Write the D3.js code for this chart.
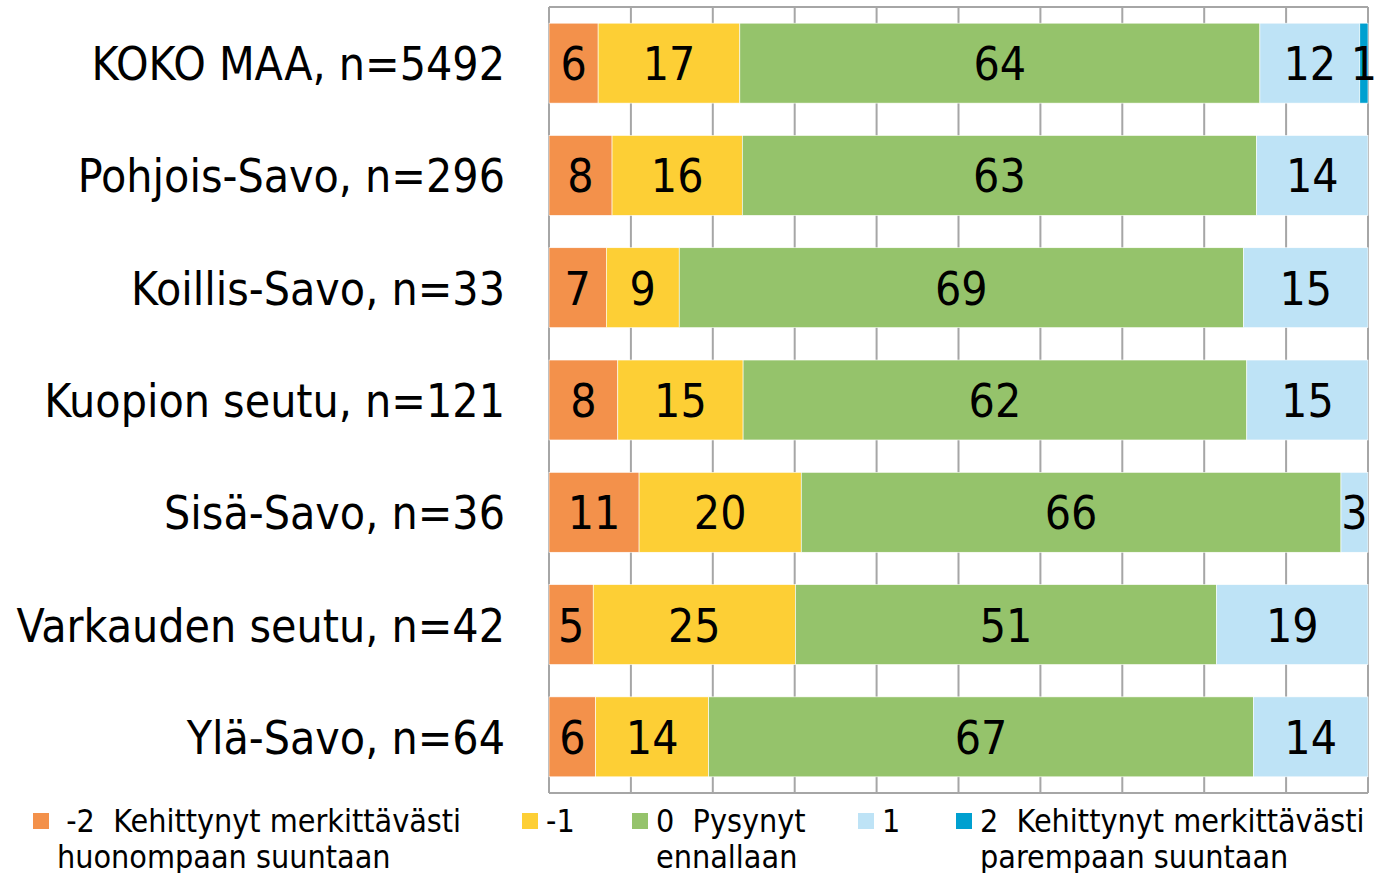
<!DOCTYPE html>
<html>
<head>
<meta charset="utf-8">
<script src="https://cdn.jsdelivr.net/npm/d3@7"></script>
<style>
  body { margin: 0; background: #fff; }
  text { font-family: "Liberation Sans Narrow", "DejaVu Sans Condensed", "Liberation Sans", sans-serif; fill: #000; }
</style>
</head>
<body>
<div id="chart"></div>
<script>
// regions (top to bottom)
var categories = ["KOKO MAA, n=5492", "Pohjois-Savo, n=296", "Koillis-Savo, n=33",
  "Kuopion seutu, n=121", "Sisä-Savo, n=36", "Varkauden seutu, n=42", "Ylä-Savo, n=64"];

// series keys and legend texts
var seriesKeys = ["m2", "m1", "z0", "p1", "p2"];
var legendLines = [
  [" -2  Kehittynyt merkittävästi", "huonompaan suuntaan"],
  ["-1"],
  ["0  Pysynyt", "ennallaan"],
  ["1"],
  ["2  Kehittynyt merkittävästi", "parempaan suuntaan"]
];
var colors = ["#F3914B", "#FDCF35", "#95C36B", "#BEE3F6", "#00A0D0"];

// percentages (label shown rounded)
var m2 = [6.0, 7.7, 7.0, 8.4, 11.0, 5.4, 5.7];
var m1 = [17.3, 15.9, 8.9, 15.3, 19.8, 24.7, 13.8];
var z0 = [63.5, 62.8, 68.9, 61.5, 65.9, 51.4, 66.5];
var p1 = [12.2, 13.6, 15.2, 14.8, 3.3, 18.5, 14.0];
var p2 = [1.0, 0, 0, 0, 0, 0, 0];
var xTicks = [0, 10, 20, 30, 40, 50, 60, 70, 80, 90, 100];

var table = categories.map(function(c, i) {
  return { cat: c, m2: m2[i], m1: m1[i], z0: z0[i], p1: p1[i], p2: p2[i] };
});

var width = 1374, height = 873;
var plotLeft = 549, plotRight = 1368, plotTop = 7, plotBottom = 793;

var svg = d3.select('#chart').append('svg')
  .attr('width', width).attr('height', height);

var x = d3.scaleLinear().domain([0, 100]).range([plotLeft, plotRight]);
var y = d3.scaleBand().domain(categories).range([plotTop, plotBottom]).paddingInner(0.288).paddingOuter(0.144);
var color = d3.scaleOrdinal().domain(seriesKeys).range(colors);

// gridlines
svg.append('g').selectAll('line')
  .data(xTicks).enter().append('line')
  .attr('x1', function(d) { return x(d); }).attr('x2', function(d) { return x(d); })
  .attr('y1', plotTop).attr('y2', plotBottom)
  .attr('stroke', '#a6a6a6').attr('stroke-width', 2);
svg.append('line').attr('x1', plotLeft).attr('x2', plotRight).attr('y1', plotTop).attr('y2', plotTop)
  .attr('stroke', '#a6a6a6').attr('stroke-width', 2);
svg.append('line').attr('x1', plotLeft).attr('x2', plotRight).attr('y1', plotBottom).attr('y2', plotBottom)
  .attr('stroke', '#a6a6a6').attr('stroke-width', 2);

var stack = d3.stack().keys(seriesKeys);
var layers = stack(table);

var groups = svg.selectAll('g.layer')
  .data(layers).enter().append('g')
  .attr('class', 'layer')
  .attr('fill', function(d) { return color(d.key); });

groups.selectAll('rect')
  .data(function(d) { return d; })
  .enter().append('rect')
  .attr('x', function(d) { return x(d[0]); })
  .attr('width', function(d) { return x(d[1]) - x(d[0]); })
  .attr('y', function(d) { return y(d.data.cat); })
  .attr('height', y.bandwidth())
  .attr('stroke', '#fff').attr('stroke-width', 0.6);

groups.selectAll('text')
  .data(function(d) { return d.filter(function(e) { return e[1] - e[0] > 0; }); })
  .enter().append('text')
  .attr('x', function(d) { return (x(d[0]) + x(d[1])) / 2; })
  .attr('y', function(d) { return y(d.data.cat) + y.bandwidth() / 2; })
  .attr('dy', '0.37em')
  .attr('text-anchor', 'middle')
  .attr('fill', '#000')
  .style('font-size', '46px')
  .text(function(d) { return Math.round(d[1] - d[0]); });

// category labels
svg.append('g').selectAll('text')
  .data(categories).enter().append('text')
  .attr('x', 505)
  .attr('y', function(d) { return y(d) + y.bandwidth() / 2; })
  .attr('dy', '0.37em')
  .attr('text-anchor', 'end')
  .style('font-size', '46px')
  .text(function(d) { return d; });

// legend
var legendX = [33, 522, 632, 858, 956];
var legend = svg.append('g').selectAll('g')
  .data(seriesKeys).enter().append('g')
  .attr('transform', function(d, i) { return 'translate(' + legendX[i] + ',813)'; });
legend.append('rect')
  .attr('width', 16).attr('height', 16)
  .attr('fill', function(d) { return color(d); });
legend.each(function(d, i) {
  var t = d3.select(this).append('text')
    .attr('x', 24).attr('y', 19)
    .style('font-size', '32px');
  legendLines[i].forEach(function(line, j) {
    t.append('tspan').attr('x', 24).attr('dy', j === 0 ? 0 : 36)
      .style('white-space', 'pre')
      .text(line);
  });
});
</script>
</body>
</html>
